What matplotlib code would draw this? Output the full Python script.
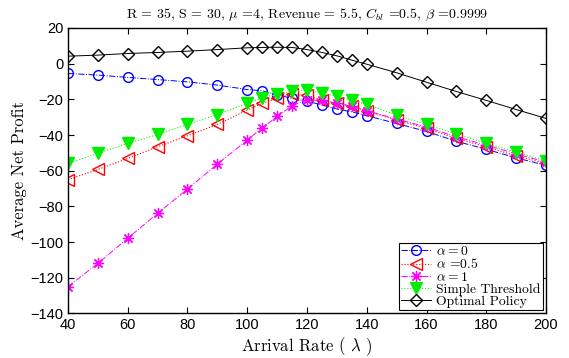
import numpy as np
import matplotlib
matplotlib.use("Agg")
import matplotlib.pyplot as plt

plt.rcParams['mathtext.fontset'] = 'cm'

rates = [40, 50, 60, 70, 80, 90, 100, 105, 110, 115, 120, 125, 130, 135, 140,
         150, 160, 170, 180, 190, 200]

alpha0 = [-5.5, -6.4, -7.7, -8.9, -10.2, -12.0, -14.5, -15.2, -17.4, -19.5, -21.0,
          -23.2, -25.4, -27.0, -29.2, -33.5, -38.0, -43.5, -48.0, -52.8, -57.0]
alpha05 = [-65.0, -59.3, -53.1, -46.6, -40.4, -34.1, -26.0, -22.2, -19.5, -17.2, -17.8,
           -20.5, -22.3, -23.8, -26.4, -31.7, -36.3, -41.9, -46.6, -51.7, -55.9]
alpha1 = [-125.0, -112.0, -97.9, -83.9, -70.3, -56.3, -42.9, -36.0, -29.6, -23.5, -20.4,
          -20.6, -22.0, -24.0, -26.5, -31.0, -35.5, -41.0, -45.7, -50.5, -55.2]
simple = [-55.9, -50.3, -44.7, -39.7, -34.1, -28.5, -22.3, -19.0, -17.2, -15.4, -14.6,
          -16.5, -18.2, -20.4, -22.8, -28.9, -34.1, -39.5, -44.6, -49.7, -54.4]
optimal = [4.2, 4.8, 5.7, 6.3, 7.0, 7.9, 8.9, 9.1, 9.2, 9.1, 7.9, 6.3, 4.4, 2.0, -0.3,
           -5.1, -10.4, -15.6, -20.6, -25.7, -30.7]

fig = plt.figure(figsize=(5.69, 3.58), dpi=100)
ax = fig.add_axes([0.1195, 0.1246, 0.8401, 0.7972])

ax.plot(rates, alpha0, color='blue', linestyle='-.', linewidth=0.7, marker='o',
        markersize=7, markerfacecolor='none', markeredgecolor='blue', label=r'$\alpha = 0$')
ax.plot(rates, alpha05, color='red', linestyle=':', linewidth=0.8, marker='<',
        markersize=8, markerfacecolor='none', markeredgecolor='red', label=r'$\alpha$ =0.5')
ax.plot(rates, alpha1, color='magenta', linestyle='-.', linewidth=0.7, marker=(8, 2, 0),
        markersize=8, markeredgewidth=0.9, markeredgecolor='magenta', label=r'$\alpha = 1$')
ax.plot(rates, simple, color='#00ff00', linestyle=':', linewidth=0.8, marker='v',
        markersize=8, markerfacecolor='#00ee00', markeredgecolor='#00ee00', label='Simple Threshold')
ax.plot(rates, optimal, color='black', linestyle='-', linewidth=0.7, marker='D',
        markersize=6, markerfacecolor='none', markeredgecolor='black', label='Optimal Policy')

ax.set_xlim(40, 200)
ax.set_ylim(-140, 20)
ax.set_xticks(np.arange(40, 201, 20))
ax.set_yticks(np.arange(-140, 21, 20))
ax.tick_params(direction='in', top=True, right=True, labelsize=10.5, length=4)
for lab in ax.get_xticklabels() + ax.get_yticklabels():
    lab.set_family('Liberation Sans')
for sp in ax.spines.values():
    sp.set_linewidth(1.0)

ax.set_xlabel(r'Arrival Rate ( $\lambda$ )', family='cmr10', fontsize=12, labelpad=2)
ax.set_ylabel('Average Net Profit', family='cmr10', fontsize=12, labelpad=2)
ax.set_title(r'R = 35, S = 30, $\mu$ =4, Revenue = 5.5, $C_{bl}$ =0.5, $\beta$ =0.9999',
             family='cmr10', fontsize=10, pad=7)

leg = ax.legend(loc='lower right', prop={'family': 'cmr10', 'size': 9.8}, fancybox=False,
                edgecolor='black', framealpha=1, borderpad=0.15, labelspacing=-0.04,
                handlelength=2.2, handletextpad=0.4, borderaxespad=0.25)
leg.get_frame().set_linewidth(0.8)

fig.savefig('out.png', dpi=100)
